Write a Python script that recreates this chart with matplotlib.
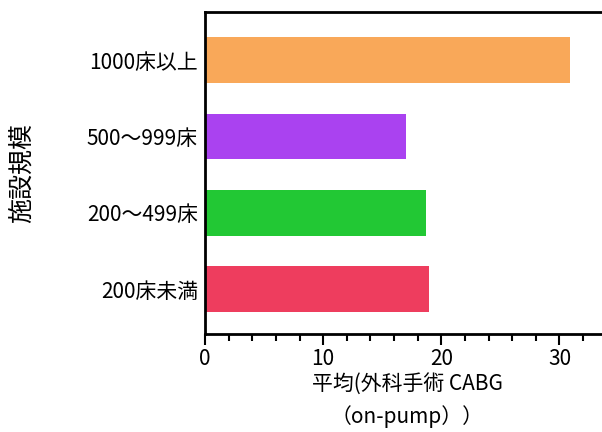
import matplotlib
matplotlib.use("Agg")
import matplotlib.pyplot as plt
from matplotlib.ticker import MultipleLocator

plt.rcParams['font.family'] = ['Noto Sans CJK JP', 'DejaVu Sans']

categories = ["200床未満", "200〜499床", "500〜999床", "1000床以上"]
values = [19.0, 18.7, 17.0, 30.9]
colors = ["#EE3D5E", "#22C834", "#AA42F0", "#F9A859"]
xticks = [0, 10, 20, 30]

fig = plt.figure(figsize=(6.02, 4.32), dpi=100)
ax = fig.add_axes([205/602, (432-334)/432, 1 - 205/602, (334-12)/432])

ax.barh(range(len(categories)), values, height=0.6, color=colors)
ax.set_yticks(range(len(categories)))
ax.set_yticklabels(categories, fontsize=15)
ax.set_ylim(-0.585, 3.63)
ax.set_xlim(0, 33.6)
ax.set_xticks(xticks)
ax.xaxis.set_minor_locator(MultipleLocator(2))
ax.tick_params(axis='x', which='major', length=8, width=1.5, labelsize=15, pad=2)
ax.tick_params(axis='x', which='minor', length=5, width=1.5)
ax.tick_params(axis='y', length=0, pad=5)

for s in ['left', 'bottom', 'top']:
    ax.spines[s].set_linewidth(2)
ax.spines['right'].set_visible(False)

ax.set_xlabel("平均(外科手術 CABG\n（on-pump））", fontsize=15, linespacing=1.5,
              va='top')
ax.xaxis.set_label_coords((407-205)/397, (334-374)/322)
ax.set_ylabel("施設規模", fontsize=18, va='center')
ax.yaxis.set_label_coords((22-205)/397, 0.5)

fig.savefig("out.png", dpi=100)
